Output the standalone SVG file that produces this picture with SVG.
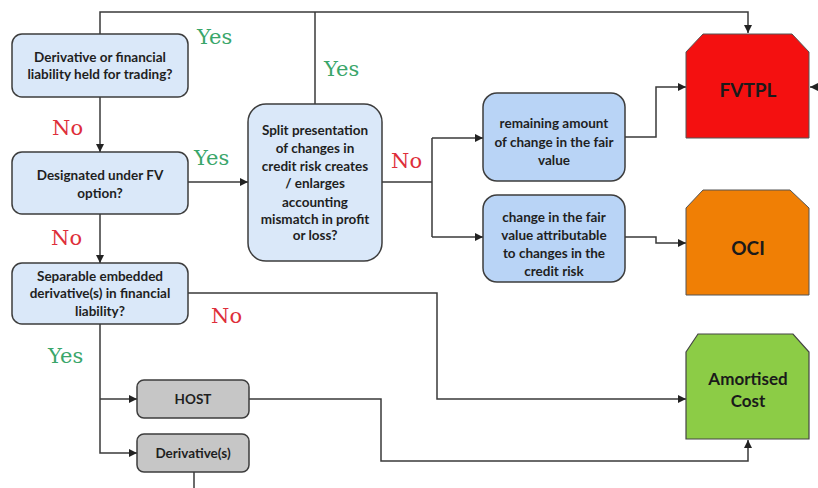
<svg xmlns="http://www.w3.org/2000/svg" width="818" height="488" viewBox="0 0 818 488">
<style>
.dec{fill:#dae8f9;stroke:#3d3d3d;stroke-width:1.5}
.res{fill:#b9d4f6;stroke:#3d3d3d;stroke-width:1.5}
.gry{fill:#c6c6c6;stroke:#3d3d3d;stroke-width:1.5}
.t{font-family:Lato,"Liberation Sans",sans-serif;font-weight:bold;font-size:13.5px;fill:#1f1f1f;text-anchor:middle}
.big{font-family:Lato,"Liberation Sans",sans-serif;font-weight:bold;fill:#1a1a1a;text-anchor:middle}
.yes{font-family:"DejaVu Serif","Liberation Serif",serif;font-size:21px;fill:#3aa66a}
.no{font-family:"DejaVu Serif","Liberation Serif",serif;font-size:21px;fill:#de2e3a}
.c{fill:none;stroke:#3a3a3a;stroke-width:1.5}
</style>
<defs>
<marker id="a" markerUnits="userSpaceOnUse" markerWidth="8" markerHeight="8" refX="8" refY="4" orient="auto">
<path d="M0,0 L8,4 L0,8 z" fill="#222"/>
</marker>
</defs>
<rect width="818" height="488" fill="#ffffff"/>
<g id="connectors">
<path class="c" d="M100,34 V12 H748 V33" marker-end="url(#a)"/>
<path class="c" d="M315,104 V12"/>
<path class="c" d="M100,97 V152" marker-end="url(#a)"/>
<path class="c" d="M100,214 V263" marker-end="url(#a)"/>
<path class="c" d="M188,182 H248" marker-end="url(#a)"/>
<path class="c" d="M382,182 H432 M432,138 V237"/>
<path class="c" d="M432,138 H483" marker-end="url(#a)"/>
<path class="c" d="M432,237 H483" marker-end="url(#a)"/>
<path class="c" d="M625,137 H656 V87 H686" marker-end="url(#a)"/>
<path class="c" d="M625,237 H656 V243 H686" marker-end="url(#a)"/>
<path class="c" d="M818,87 H810" marker-end="url(#a)"/>
<path class="c" d="M188,293 H437 V399 H686" marker-end="url(#a)"/>
<path class="c" d="M100,324 V453 H137" marker-end="url(#a)"/>
<path class="c" d="M100,399 H137" marker-end="url(#a)"/>
<path class="c" d="M249,399 H381 V461 H748 V440" marker-end="url(#a)"/>
<path class="c" d="M194,472 V488"/>
</g>
<g id="labels">
<text class="yes" x="197" y="44">Yes</text>
<text class="yes" x="324" y="76">Yes</text>
<text class="yes" x="194" y="165">Yes</text>
<text class="yes" x="48" y="363">Yes</text>
<text class="no" x="52" y="135">No</text>
<text class="no" x="51" y="245">No</text>
<text class="no" x="391" y="168">No</text>
<text class="no" x="211" y="323">No</text>
</g>
<g id="held-for-trading">
<rect class="dec" x="12" y="34" width="176" height="63" rx="10"/>
<text class="t" x="100" y="62">Derivative or financial</text>
<text class="t" x="100" y="79">liability held for trading?</text>
</g>
<g id="fv-option">
<rect class="dec" x="12" y="152" width="176" height="62" rx="10"/>
<text class="t" x="100" y="180">Designated under FV</text>
<text class="t" x="100" y="198">option?</text>
</g>
<g id="split-presentation">
<rect class="dec" x="248" y="104" width="134" height="157" rx="18"/>
<text class="t" x="315" y="135">Split presentation</text>
<text class="t" x="315" y="153">of changes in</text>
<text class="t" x="315" y="171">credit risk creates</text>
<text class="t" x="315" y="188">/ enlarges</text>
<text class="t" x="315" y="207">accounting</text>
<text class="t" x="315" y="224">mismatch in profit</text>
<text class="t" x="315" y="240">or loss?</text>
</g>
<g id="separable">
<rect class="dec" x="12" y="263" width="176" height="61" rx="10"/>
<text class="t" x="100" y="281">Separable embedded</text>
<text class="t" x="100" y="298">derivative(s) in financial</text>
<text class="t" x="100" y="316">liability?</text>
</g>
<g id="remaining">
<rect class="res" x="483" y="93" width="142" height="88" rx="14"/>
<text class="t" x="554" y="128">remaining amount</text>
<text class="t" x="554" y="147">of change in the fair</text>
<text class="t" x="554" y="165">value</text>
</g>
<g id="credit-change">
<rect class="res" x="483" y="195" width="142" height="87" rx="14"/>
<text class="t" x="554" y="222">change in the fair</text>
<text class="t" x="554" y="240">value attributable</text>
<text class="t" x="554" y="258">to changes in the</text>
<text class="t" x="554" y="276">credit risk</text>
</g>
<g id="host">
<rect class="gry" x="137" y="380" width="112" height="38" rx="7"/>
<text class="t" x="193" y="404">HOST</text>
</g>
<g id="derivatives">
<rect class="gry" x="137" y="434" width="112" height="38" rx="7"/>
<text class="t" x="193" y="458">Derivative(s)</text>
</g>
<g id="fvtpl">
<path d="M686,52 L703,34 H792 L809,52 V138 H686 Z" fill="#f41010" stroke="#555" stroke-width="1"/>
<text class="big" x="748" y="97" font-size="19" fill="#2a0000">FVTPL</text>
</g>
<g id="oci">
<path d="M686,208 L703,190 H790 L809,208 V295 H686 Z" fill="#f07f05" stroke="#555" stroke-width="1"/>
<text class="big" x="748" y="255" font-size="19">OCI</text>
</g>
<g id="amortised">
<path d="M686,352 L698,334 H793 L809,352 V439 H686 Z" fill="#8ccc46" stroke="#444" stroke-width="1.2"/>
<text class="big" x="748" y="385" font-size="17">Amortised</text>
<text class="big" x="748" y="407" font-size="17">Cost</text>
</g>
</svg>
